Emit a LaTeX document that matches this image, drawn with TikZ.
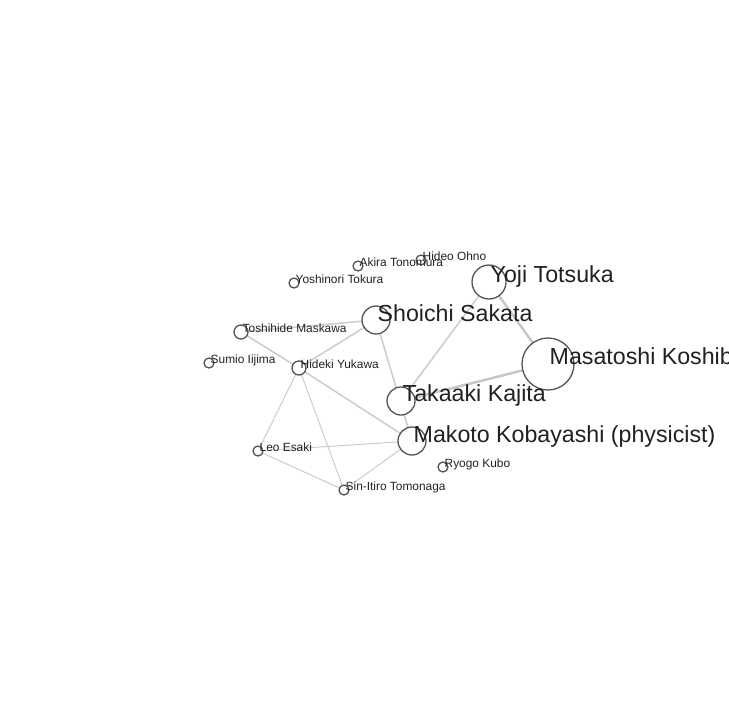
\documentclass[tikz,border=0pt]{standalone}
\usepackage{fontspec}
\setmainfont{Liberation Sans}
\pgfdeclarelayer{background}
\pgfsetlayers{background,main}
\begin{document}
\begin{tikzpicture}[x=1pt,y=-1pt,
  vert/.style={circle,draw=black!67,line width=1.3pt,fill=white,inner sep=0pt,minimum size=#1},
  lab/.style={anchor=base west,inner sep=0pt,text=black!87,font=\fontsize{11.9}{12}\selectfont},
  biglab/.style={anchor=base west,inner sep=0pt,text=black!87,font=\fontsize{23.2}{24}\selectfont},
  edge/.style={draw=black!20,line width=1.5pt},
  thinedge/.style={draw=black!20,line width=1pt},
  thickedge/.style={draw=black!22,line width=2.5pt}]
\clip (0,0) rectangle (728,728);
\useasboundingbox (0,0) rectangle (728,728);
% nodes
\node[vert=10pt] (Ton) at (358,266) {};
\node[vert=10pt] (Ohn) at (421,260) {};
\node[vert=10pt] (Tok) at (294,283) {};
\node[vert=28pt] (Sak) at (376,320) {};
\node[vert=14pt] (Mas) at (241,332) {};
\node[vert=10pt] (Iij) at (209,363) {};
\node[vert=14pt] (Yuk) at (299,368) {};
\node[vert=34pt] (Tot) at (489,282) {};
\node[vert=52pt] (Kos) at (548,364) {};
\node[vert=28pt] (Kaj) at (401,401) {};
\node[vert=28pt] (Kob) at (412,441) {};
\node[vert=10pt] (Esa) at (258,451) {};
\node[vert=10pt] (Kub) at (443,467) {};
\node[vert=10pt] (Tom) at (344,490) {};
% edges (behind nodes)
\begin{pgfonlayer}{background}
\path[edge] (Mas.center) -- (Sak.center);
\path[edge] (Yuk.center) -- (Sak.center);
\path[edge] (Mas.center) -- (Yuk.center);
\path[edge] (Sak.center) -- (Kob.center);
\path[edge] (Tot.center) -- (Kaj.center);
\path[thickedge] (Tot.center) -- (Kos.center);
\path[thickedge] (Kaj.center) -- (Kos.center);
\path[edge] (Yuk.center) -- (Kob.center);
\path[thinedge] (Yuk.center) -- (Esa.center);
\path[thinedge] (Yuk.center) -- (Tom.center);
\path[thinedge] (Esa.center) -- (Kob.center);
\path[thinedge] (Esa.center) -- (Tom.center);
\path[thinedge] (Tom.center) -- (Kob.center);
\end{pgfonlayer}
% labels
\node[lab] (lTon) at ([xshift=1.5pt]Ton.center) {Akira Tonomura};
\node[lab] (lOhn) at ([xshift=1.5pt]Ohn.center) {Hideo Ohno};
\node[lab] (lTok) at ([xshift=1.5pt]Tok.center) {Yoshinori Tokura};
\node[lab] (lMas) at ([xshift=1.5pt]Mas.center) {Toshihide Maskawa};
\node[lab] (lIij) at ([xshift=1.5pt]Iij.center) {Sumio Iijima};
\node[lab] (lYuk) at ([xshift=1.5pt]Yuk.center) {Hideki Yukawa};
\node[lab] (lEsa) at ([xshift=1.5pt]Esa.center) {Leo Esaki};
\node[lab] (lKub) at ([xshift=1.5pt]Kub.center) {Ryogo Kubo};
\node[lab] (lTom) at ([xshift=1.5pt]Tom.center) {Sin-Itiro Tomonaga};
\node[biglab] (lSak) at ([xshift=1.5pt,yshift=-1.5pt]Sak.center) {Shoichi Sakata};
\node[biglab] (lTot) at ([xshift=1.5pt]Tot.center) {Yoji Totsuka};
\node[biglab] (lKos) at ([xshift=1.5pt]Kos.center) {Masatoshi Koshiba};
\node[biglab] (lKaj) at ([xshift=1.5pt]Kaj.center) {Takaaki Kajita};
\node[biglab] (lKob) at ([xshift=1.5pt,yshift=-1.5pt]Kob.center) {Makoto Kobayashi (physicist)};
\end{tikzpicture}
\end{document}
